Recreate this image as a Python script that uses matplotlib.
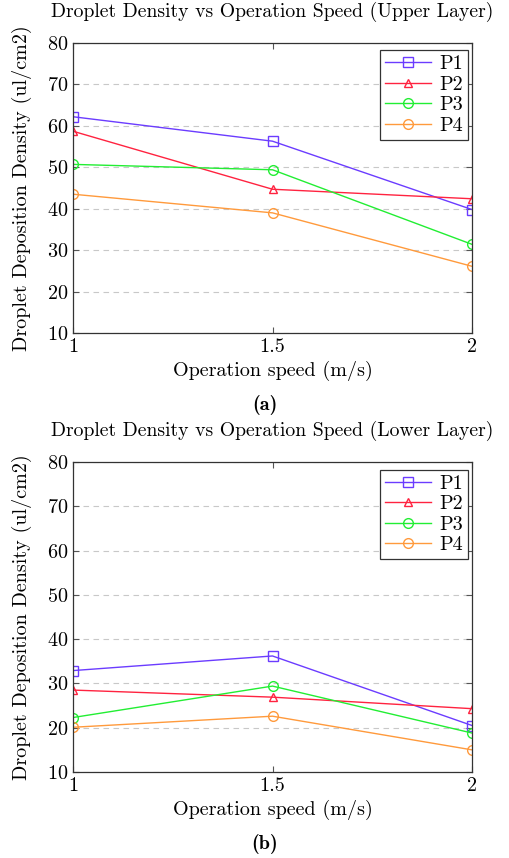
import matplotlib.pyplot as plt

plt.rcParams['font.family'] = ['cmr10', 'DejaVu Serif']
plt.rcParams['mathtext.fontset'] = 'cm'
plt.rcParams['axes.formatter.use_mathtext'] = True

# ── data ─────────────────────────────────────────────────────────────────────

speed = [1, 1.5, 2]
series_names = ["P1", "P2", "P3", "P4"]

upper_p1 = [62.2, 56.3, 39.8]
upper_p2 = [58.7, 44.7, 42.4]
upper_p3 = [50.7, 49.4, 31.4]
upper_p4 = [43.5, 39.0, 26.1]

lower_p1 = [32.9, 36.2, 20.5]
lower_p2 = [28.5, 26.9, 24.3]
lower_p3 = [22.3, 29.4, 18.8]
lower_p4 = [20.1, 22.6, 15.0]

colors = ["#6b3cff", "#ff2340", "#22ee33", "#ff9a3c"]
markers = ["s", "^", "o", "o"]

# ── plot ─────────────────────────────────────────────────────────────────────

fig = plt.figure(figsize=(5.09, 8.58), dpi=100)
W, H = 509, 858
FS = 14.5


def add_panel(top, bottom, values, title, tag):
    ax = fig.add_axes([73 / W, 1 - bottom / H, (472 - 73) / W, (bottom - top) / H])
    for vals, name, c, m in zip(values, series_names, colors, markers):
        ax.plot(speed, vals, color=c, marker=m, markersize=7 if m != "^" else 5.5,
                markerfacecolor="none", markeredgewidth=1.0, linewidth=1.0,
                label=name)
    ax.set_xlim(1, 2)
    ax.set_ylim(10, 80)
    ax.set_xticks([1, 1.5, 2])
    ax.set_xticklabels(["1", "1.5", "2"])
    ax.set_yticks(range(10, 81, 10))
    ax.tick_params(direction="in", top=True, right=True, labelsize=FS,
                   length=4, color="#555555")
    ax.grid(True, axis="y", linestyle=(0, (5, 4)), color="#c8c8c8", linewidth=0.8)
    for s in ax.spines.values():
        s.set_linewidth(0.9)
        s.set_color("#333333")
    ax.set_xlabel("Operation speed (m/s)", fontsize=FS, labelpad=4)
    ax.set_ylabel("Droplet Deposition Density (ul/cm2)", fontsize=FS, labelpad=11)
    ax.set_title(title, fontsize=14.2, pad=19, x=0.5)
    leg = ax.legend(loc="upper right", fontsize=FS, fancybox=False,
                    edgecolor="#333333", framealpha=1, borderpad=0.25,
                    labelspacing=0.12, handlelength=2.3, handletextpad=0.4,
                    borderaxespad=0, bbox_to_anchor=(0.99, 0.975))
    leg.get_frame().set_linewidth(0.9)
    fig.text(265 / W, 1 - (bottom + 72) / H, tag, fontsize=FS, fontweight="bold",
             family=["cmb10", "DejaVu Serif"], ha="center", va="center")
    return ax


add_panel(43, 333, [upper_p1, upper_p2, upper_p3, upper_p4],
          "Droplet Density vs Operation Speed (Upper Layer)", "(a)")
add_panel(462, 772, [lower_p1, lower_p2, lower_p3, lower_p4],
          "Droplet Density vs Operation Speed (Lower Layer)", "(b)")

fig.savefig("out.png", dpi=100)
